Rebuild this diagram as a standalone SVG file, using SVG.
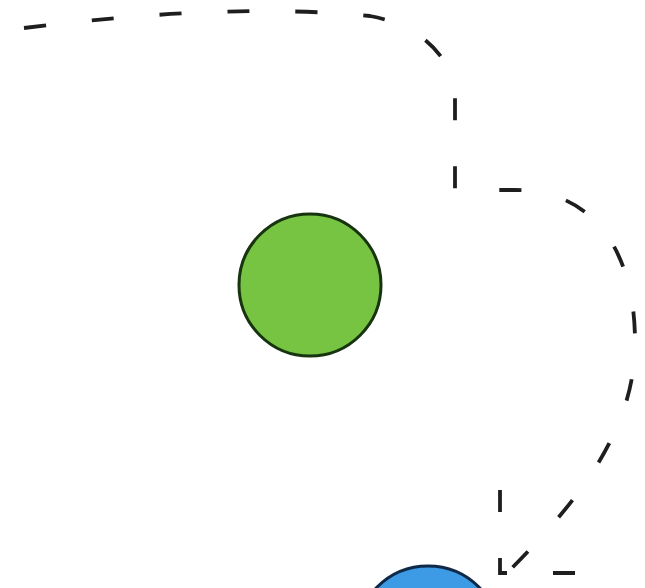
<svg xmlns="http://www.w3.org/2000/svg" width="645" height="588" viewBox="0 0 645 588">
<style>
.conn{fill:none;stroke:#1e1e1e;stroke-width:3.8;stroke-dasharray:22 46;stroke-linejoin:miter}
</style>
<rect width="645" height="588" fill="#ffffff"/>
<g id="connectors">
<path class="conn" d="M24,28 Q230,2 370,16 Q434,28 455,82 V190 H515 C600,190 636,260 635,345 C634,430 580,500 505,575"/>
<path class="conn" d="M500,490 V573 H600"/>
</g>
<g id="node-green">
<circle cx="310" cy="285" r="71" fill="#76c442" stroke="#17330f" stroke-width="3"/>
</g>
<g id="node-blue">
<circle cx="428" cy="638" r="72" fill="#3d9be6" stroke="#0f2a48" stroke-width="3"/>
</g>
</svg>
